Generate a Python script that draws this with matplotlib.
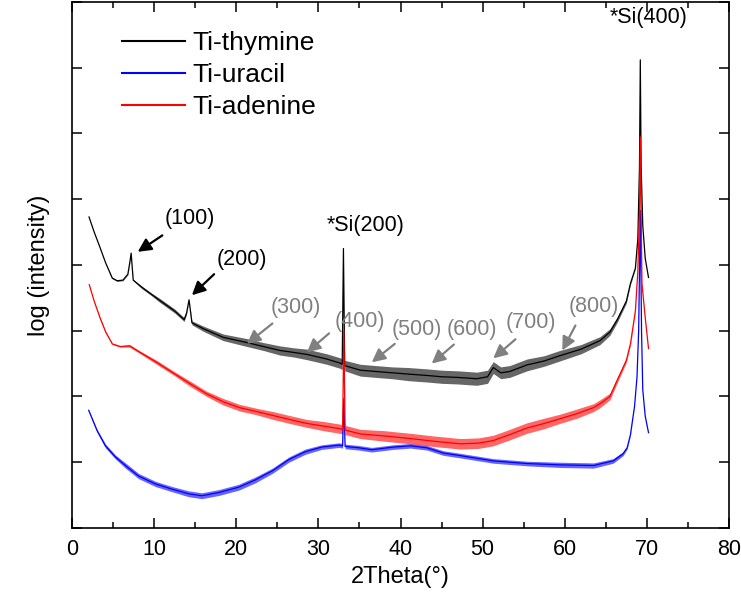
import matplotlib
matplotlib.use("Agg")
import matplotlib.pyplot as plt
import numpy as np
from matplotlib.ticker import MultipleLocator

plt.rcParams['font.family'] = ['Liberation Sans', 'DejaVu Sans']

# Ti-thymine (black), 2theta vs log intensity (arbitrary offset units)
thy_x = [2.07, 2.7, 3.4, 4.1, 4.9, 5.5, 6.2, 6.8, 7.05, 7.2, 7.45, 8.5, 9.6, 10.7, 11.6, 12.5, 13.65, 13.95,
         14.25, 14.6, 16.0, 18.4, 21.3, 23.3, 25.3, 27.0, 28.6, 31.0, 32.6, 32.9, 33.05, 33.2, 35.1, 37.0,
         39.0, 41.0, 43.2, 45.0, 47.0, 49.3, 50.6, 51.3, 52.2, 53.3, 55.4, 57.5, 59.4, 62.0, 64.3, 65.5,
         66.4, 67.5, 68.0, 68.6, 68.9, 69.1, 69.2, 69.3, 69.5, 69.8, 70.2]
thy_y = [4.73, 4.50, 4.27, 4.03, 3.80, 3.76, 3.77, 3.86, 4.05, 4.18, 3.77, 3.66, 3.56, 3.46, 3.38, 3.30,
         3.17, 3.27, 3.47, 3.12, 3.03, 2.90, 2.82, 2.76, 2.70, 2.67, 2.64, 2.57, 2.51, 2.49, 4.25, 2.47,
         2.40, 2.38, 2.36, 2.34, 2.32, 2.30, 2.29, 2.27, 2.30, 2.44, 2.36, 2.38, 2.48, 2.54, 2.62, 2.72,
         2.85, 2.98, 3.17, 3.45, 3.72, 3.95, 4.40, 5.50, 7.12, 5.50, 4.60, 4.10, 3.81]
thy_spread = [0.0, 0.0, 0.0, 0.0, 0.01, 0.01, 0.01, 0.01, 0.01, 0.0, 0.01, 0.02, 0.02, 0.03, 0.03, 0.03,
              0.03, 0.02, 0.0, 0.03, 0.04, 0.05, 0.06, 0.06, 0.07, 0.07, 0.08, 0.08, 0.08, 0.08, 0.0, 0.08,
              0.09, 0.09, 0.09, 0.10, 0.10, 0.10, 0.10, 0.10, 0.10, 0.09, 0.09, 0.09, 0.09, 0.08, 0.08, 0.07,
              0.06, 0.05, 0.04, 0.03, 0.02, 0.01, 0.0, 0.0, 0.0, 0.0, 0.0, 0.0, 0.0]

# Ti-uracil (blue)
ura_x = [2.03, 3.05, 4.06, 5.28, 6.5, 8.1, 10.15, 12.2, 14.2, 15.8, 17.9, 20.3, 22.3, 24.4, 26.4, 28.4,
         30.4, 32.5, 32.95, 33.1, 33.25, 34.9, 36.5, 39.1, 41.2, 43.2, 45.2, 47.3, 51.3, 55.4, 59.4, 63.5,
         65.9, 67.1, 67.6, 68.0, 68.5, 68.8, 69.0, 69.2, 69.35, 69.5, 69.8, 70.2]
ura_y = [1.79, 1.48, 1.25, 1.08, 0.95, 0.79, 0.67, 0.59, 0.52, 0.49, 0.54, 0.62, 0.73, 0.87, 1.04, 1.16,
         1.23, 1.26, 1.25, 1.97, 1.24, 1.22, 1.19, 1.23, 1.25, 1.22, 1.14, 1.10, 1.02, 0.98, 0.96, 0.95,
         1.02, 1.13, 1.22, 1.42, 1.85, 2.30, 3.00, 4.83, 3.00, 2.10, 1.70, 1.45]
ura_spread = [0.01, 0.02, 0.03, 0.03, 0.04, 0.04, 0.04, 0.04, 0.045, 0.045, 0.045, 0.045, 0.045, 0.04, 0.04,
              0.04, 0.035, 0.035, 0.035, 0.0, 0.035, 0.035, 0.035, 0.035, 0.035, 0.035, 0.035, 0.035, 0.035,
              0.035, 0.04, 0.04, 0.035, 0.03, 0.02, 0.01, 0.0, 0.0, 0.0, 0.0, 0.0, 0.0, 0.0, 0.0]

# Ti-adenine (red)
ade_x = [2.1, 2.7, 3.4, 4.1, 4.9, 5.85, 7.0, 8.3, 10.3, 12.3, 14.3, 16.4, 18.4, 20.4, 22.5, 24.5, 26.5,
         28.6, 30.6, 32.6, 32.95, 33.1, 33.25, 35.1, 38.0, 41.2, 44.0, 47.3, 49.5, 51.3, 53.3, 55.4, 57.5,
         59.4, 61.5, 63.5, 64.3, 65.5, 66.4, 67.5, 68.0, 68.6, 68.9, 69.1, 69.2, 69.3, 69.4, 69.8, 70.2]
ade_y = [3.70, 3.45, 3.20, 2.98, 2.80, 2.76, 2.77, 2.67, 2.52, 2.36, 2.20, 2.04, 1.92, 1.83, 1.77, 1.71,
         1.65, 1.59, 1.55, 1.51, 1.50, 3.00, 1.49, 1.43, 1.40, 1.36, 1.32, 1.28, 1.29, 1.33, 1.42, 1.52,
         1.59, 1.66, 1.74, 1.83, 1.89, 2.00, 2.25, 2.55, 2.80, 3.30, 3.90, 4.80, 5.95, 4.80, 3.72, 3.20,
         2.73]
ade_spread = [0.0, 0.0, 0.01, 0.01, 0.01, 0.01, 0.02, 0.02, 0.03, 0.03, 0.04, 0.04, 0.05, 0.05, 0.05, 0.06,
              0.06, 0.06, 0.07, 0.07, 0.07, 0.0, 0.07, 0.07, 0.08, 0.08, 0.08, 0.08, 0.08, 0.08, 0.08, 0.08,
              0.08, 0.07, 0.07, 0.06, 0.06, 0.05, 0.04, 0.03, 0.02, 0.01, 0.0, 0.0, 0.0, 0.0, 0.0, 0.0, 0.0]

# peak labels: (text, text x, text y, arrow tail x, tail y, head x, head y)
black_labels = [("(100)", 14.4, 4.71, 11.0, 4.45, 8.0, 4.20),
                ("(200)", 20.7, 4.09, 17.3, 3.86, 14.6, 3.54)]
grey_labels = [("(300)", 27.3, 3.35, 24.4, 3.11, 21.3, 2.80),
               ("(400)", 35.1, 3.14, 31.3, 2.96, 28.6, 2.67),
               ("(500)", 42.0, 3.02, 39.3, 2.80, 36.5, 2.52),
               ("(600)", 48.7, 3.02, 46.5, 2.79, 43.8, 2.50),
               ("(700)", 55.9, 3.12, 54.0, 2.87, 51.3, 2.58),
               ("(800)", 63.5, 3.37, 61.3, 3.08, 59.7, 2.70)]

fig = plt.figure(figsize=(7.41, 6.01), dpi=100)
ax = fig.add_axes([0.0972, 0.1215, 0.8866, 0.8752])

ax.fill_between(thy_x, np.array(thy_y) - thy_spread, np.array(thy_y) + thy_spread,
                color='black', alpha=0.6, lw=0)
ax.fill_between(ura_x, np.array(ura_y) - ura_spread, np.array(ura_y) + ura_spread,
                color='blue', alpha=0.6, lw=0)
ax.fill_between(ade_x, np.array(ade_y) - ade_spread, np.array(ade_y) + ade_spread,
                color='red', alpha=0.6, lw=0)
ax.plot(thy_x, thy_y, color='black', lw=0.9, label='Ti-thymine')
ax.plot(ura_x, ura_y, color='blue', lw=0.9, label='Ti-uracil')
ax.plot(ade_x, ade_y, color='red', lw=0.9, label='Ti-adenine')

for txt, tx, ty, ax0, ay0, hx, hy in black_labels:
    ax.text(tx, ty, txt, fontsize=15.5, ha='center', va='center', color='black')
    ax.annotate('', xy=(hx, hy), xytext=(ax0, ay0),
                arrowprops=dict(arrowstyle='-|>,head_length=0.8,head_width=0.4', color='black',
                                lw=1.6, shrinkA=0, shrinkB=0))
for txt, tx, ty, ax0, ay0, hx, hy in grey_labels:
    ax.text(tx, ty, txt, fontsize=15.5, ha='center', va='center', color='#808080')
    ax.annotate('', xy=(hx, hy), xytext=(ax0, ay0),
                arrowprops=dict(arrowstyle='-|>,head_length=0.8,head_width=0.4', color='#808080',
                                lw=1.6, shrinkA=0, shrinkB=0))

ax.text(35.7, 4.6, '*Si(200)', fontsize=15.5, ha='center', va='center')
ax.text(70.2, 7.76, '*Si(400)', fontsize=15.5, ha='center', va='center')

leg = ax.legend(loc='upper left', bbox_to_anchor=(0.076, 0.945), frameon=False, fontsize=19,
                handlelength=2.4, handletextpad=0.25, labelspacing=0.3, borderpad=0, borderaxespad=0)
for line in leg.get_lines():
    line.set_linewidth(1.5)

ax.set_xlim(0, 80)
ax.set_ylim(0, 8)
ax.xaxis.set_major_locator(MultipleLocator(10))
ax.xaxis.set_minor_locator(MultipleLocator(5))
ax.yaxis.set_major_locator(MultipleLocator(1))
ax.set_yticklabels([])
ax.tick_params(axis='x', which='major', direction='in', length=7, width=1.1, top=True, labelsize=15.5, pad=8)
ax.tick_params(axis='x', which='minor', direction='in', length=4, width=1.1, top=True)
ax.tick_params(axis='y', which='major', direction='in', length=7.5, width=1.1, right=True, left=True)
for s in ax.spines.values():
    s.set_linewidth(1.2)

ax.set_xlabel('2Theta(°)', fontsize=17)
ax.set_ylabel('log (intensity)', fontsize=17, labelpad=12)

fig.savefig('out.png', dpi=100)
